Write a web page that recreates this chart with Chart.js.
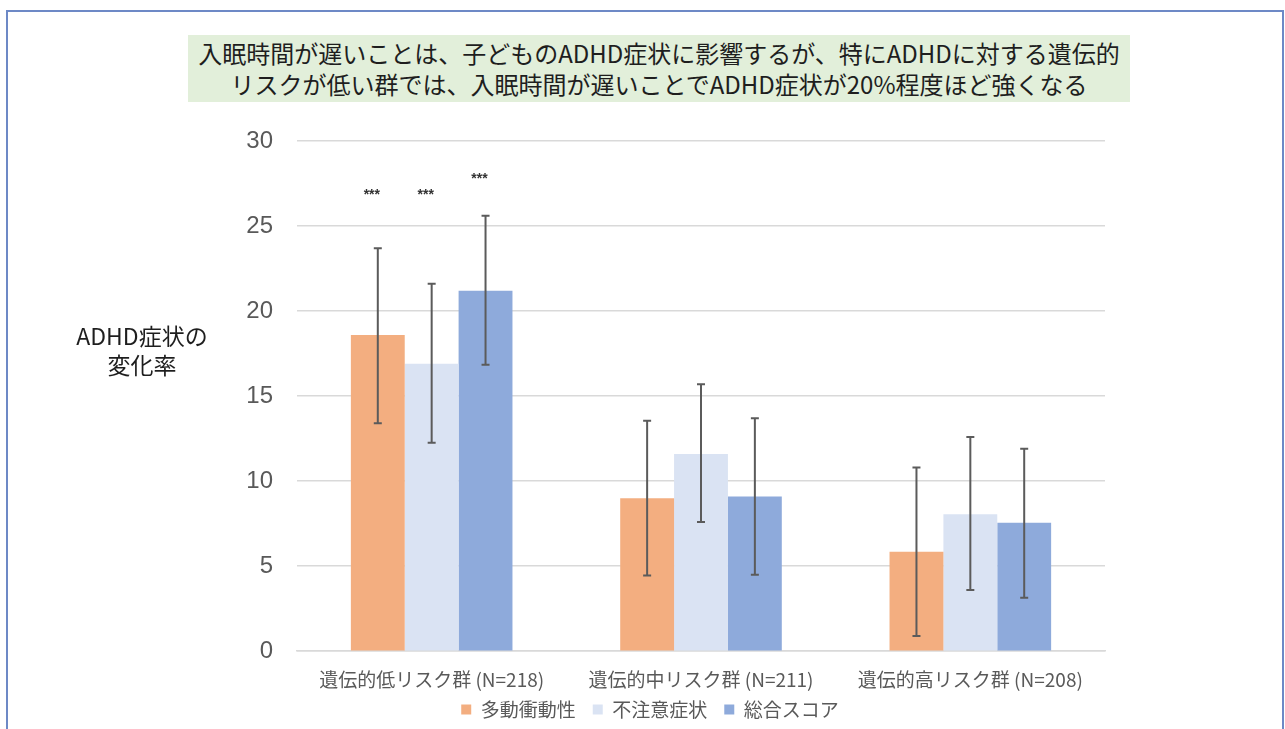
<!DOCTYPE html>
<html lang="ja">
<head>
  <meta charset="UTF-8">
  <title>入眠時間とADHD症状</title>
  <script src="https://cdn.jsdelivr.net/npm/chart.js"></script>
  <style>
    html, body { margin: 0; padding: 0; background: #fff; }
    #wrap { position: relative; width: 1285px; height: 729px; overflow: hidden; }
    #frame { position: absolute; left: 6px; top: 10px; width: 1278px; height: 740px;
             border: 2px solid #6d89c6; box-sizing: border-box; }
    #title { position: absolute; left: 188px; top: 35px; width: 942px; height: 67px;
             background: #e2efda; color: #1e1e1e; text-align: center;
             font: 24px "Noto Sans CJK JP", sans-serif; line-height: 31px; padding-top: 2px;
             box-sizing: border-box; }
    #ytitle { position: absolute; left: 62px; top: 321px; width: 160px; text-align: center;
              color: #1e1e1e; font: 23px "Noto Sans CJK JP", sans-serif; line-height: 29px; }
    canvas { position: absolute; left: 0; top: 0; }
  </style>
</head>
<body>
<div id="wrap">
  <canvas id="barChart" width="1285" height="729"></canvas>
  <div id="frame"></div>
  <div id="title">入眠時間が遅いことは、子どものADHD症状に影響するが、特にADHDに対する遺伝的<br>リスクが低い群では、入眠時間が遅いことでADHD症状が20%程度ほど強くなる</div>
  <div id="ytitle">ADHD症状の<br>変化率</div>
</div>

<script>
  // カテゴリ
  const groups = ["遺伝的低リスク群 (N=218)", "遺伝的中リスク群 (N=211)", "遺伝的高リスク群 (N=208)"];
  const seriesNames = ["多動衝動性", "不注意症状", "総合スコア"];
  const seriesColors = ["#f3ae80", "#dae3f3", "#8eaadb"];

  // 変化率（%）
  const hyperactivity = [18.6, 9.0, 5.85];
  const inattention   = [16.9, 11.6, 8.05];
  const totalScore    = [21.2, 9.1, 7.55];

  // エラーバー（下端・上端）
  const hyperLow  = [13.4, 4.45, 0.9];
  const hyperHigh = [23.7, 13.55, 10.8];
  const inattLow  = [12.25, 7.6, 3.6];
  const inattHigh = [21.6, 15.7, 12.6];
  const totalLow  = [16.85, 4.5, 3.15];
  const totalHigh = [25.6, 13.7, 11.9];

  // 有意差マーク
  const starLabels = [["***", "***", "***"], ["", "", ""], ["", "", ""]];
  const starLevel  = [27.0, 27.0, 27.95];

  const yTicks = [0, 5, 10, 15, 20, 25, 30];

  const values = [hyperactivity, inattention, totalScore];
  const lows = [hyperLow, inattLow, totalLow];
  const highs = [hyperHigh, inattHigh, totalHigh];

  // エラーバーと *** を描画
  const errorBarPlugin = {
    id: 'errorBars',
    afterDatasetsDraw(chart) {
      const ctx = chart.ctx;
      const y = chart.scales.y;
      ctx.save();
      chart.data.datasets.forEach((ds, i) => {
        const meta = chart.getDatasetMeta(i);
        meta.data.forEach((bar, j) => {
          const top = y.getPixelForValue(highs[i][j]);
          const bottom = y.getPixelForValue(lows[i][j]);
          ctx.strokeStyle = '#5b5b5b';
          ctx.lineWidth = 2;
          ctx.beginPath();
          ctx.moveTo(bar.x, top);
          ctx.lineTo(bar.x, bottom);
          ctx.moveTo(bar.x - 4, top);
          ctx.lineTo(bar.x + 4, top);
          ctx.moveTo(bar.x - 4, bottom);
          ctx.lineTo(bar.x + 4, bottom);
          ctx.stroke();

          const star = starLabels[j][i];
          if (star) {
            ctx.fillStyle = '#333';
            ctx.font = 'bold 14px "Liberation Sans", sans-serif';
            ctx.textAlign = 'center';
            ctx.textBaseline = 'middle';
            ctx.fillText(star, bar.x - 6, y.getPixelForValue(starLevel[i]) + 3);
          }
        });
      });
      ctx.restore();
    }
  };

  const ctx = document.getElementById('barChart').getContext('2d');
  const barChart = new Chart(ctx, {
    type: 'bar',
    data: {
      labels: groups,
      datasets: seriesNames.map((name, i) => ({
        label: name,
        data: values[i],
        backgroundColor: seriesColors[i],
        barPercentage: 1.0,
        categoryPercentage: 0.6
      }))
    },
    options: {
      responsive: false,
      animation: false,
      layout: { padding: { left: 195, right: 180, top: 141, bottom: 0 } },
      plugins: {
        legend: {
          position: 'bottom',
          labels: {
            boxWidth: 10,
            boxHeight: 10,
            padding: 0,
            color: '#595959',
            font: { family: '"Noto Sans CJK JP", sans-serif', size: 19 },
            // 項目の間隔を広げるため末尾に空白を付ける
            generateLabels: (chart) => {
              const items = Chart.defaults.plugins.legend.labels.generateLabels(chart);
              items.forEach((it, k) => { if (k < items.length - 1) it.text += '    '; });
              return items;
            }
          }
        },
        tooltip: { enabled: false }
      },
      scales: {
        x: {
          grid: { display: false },
          border: { display: true, color: '#d9d9d9', width: 1.5 },
          ticks: {
            padding: 9,
            color: '#595959',
            font: { family: '"Noto Sans CJK JP", sans-serif', size: 19 }
          }
        },
        y: {
          min: 0,
          max: 30,
          afterFit: (s) => { s.width = 102; },
          afterBuildTicks: (s) => { s.ticks = yTicks.map(v => ({ value: v })); },
          grid: { color: '#d9d9d9', lineWidth: 1.5, drawTicks: false },
          border: { display: false },
          ticks: {
            padding: 24,
            color: '#595959',
            font: { family: '"Liberation Sans", sans-serif', size: 24 }
          }
        }
      }
    },
    plugins: [errorBarPlugin]
  });
</script>
</body>
</html>
